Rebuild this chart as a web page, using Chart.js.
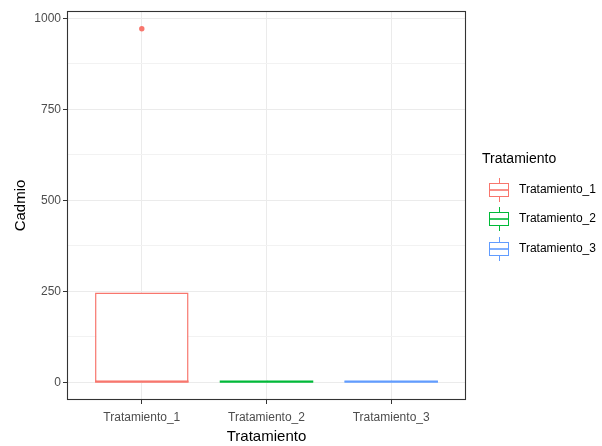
<!DOCTYPE html>
<html><head><meta charset="utf-8">
<script src="https://cdn.jsdelivr.net/npm/chart.js@4"></script>
<style>html,body{margin:0;padding:0;background:#fff}#wrap{width:602px;height:446px;position:relative}</style>
</head><body><div id="wrap"><canvas id="c" width="602" height="446"></canvas></div>
<script>
// ---- data ----
const categories = ['Tratamiento_1', 'Tratamiento_2', 'Tratamiento_3'];
const whiskerLow  = [0,   0.5, 0.5];
const q1          = [0.5, 1,   1];
const median      = [2,   2,   2];
const q3          = [247, 3,   3];
const whiskerHigh = [247, 4,   4];
const outliers    = [[972], [], []];
const yMajorTicks = [0, 250, 500, 750, 1000];
const yMinorTicks = [125, 375, 625, 875];
const xTitle = 'Tratamiento';
const yTitle = 'Cadmio';
const legendTitle = 'Tratamiento';

// ---- style ----
const colors = ['#F8766D', '#00BA38', '#619CFF'];
const FONT = "'Liberation Sans', Arial, sans-serif";
Chart.defaults.font.family = FONT;

const allVals = whiskerLow.concat(whiskerHigh, outliers.flat());
const dMin = Math.min(...allVals), dMax = Math.max(...allVals);
const padY = (dMax - dMin) * 0.05;
const yTickValues = yMajorTicks.concat(yMinorTicks).sort((a, b) => a - b);
const isMajor = v => yMajorTicks.includes(v);

const outlierPoints = [];
outliers.forEach((arr, i) => arr.forEach(v => outlierPoints.push({x: i + 1, y: v})));
const outlierColors = [];
outliers.forEach((arr, i) => arr.forEach(() => outlierColors.push(colors[i])));

const boxPlugin = {
  id: 'boxExtras',
  afterDatasetsDraw(chart) {
    const ctx = chart.ctx, y = chart.scales.y, meta = chart.getDatasetMeta(0);
    ctx.save();
    meta.data.forEach((bar, i) => {
      const cx = Math.round(bar.x) + 0.5, hw = bar.width / 2;
      ctx.strokeStyle = colors[i];
      ctx.lineWidth = 1;
      ctx.beginPath();
      ctx.moveTo(cx, y.getPixelForValue(q3[i]));
      ctx.lineTo(cx, y.getPixelForValue(whiskerHigh[i]));
      ctx.moveTo(cx, y.getPixelForValue(q1[i]));
      ctx.lineTo(cx, y.getPixelForValue(whiskerLow[i]));
      ctx.stroke();
      ctx.lineWidth = 2.2;
      ctx.beginPath();
      const my = y.getPixelForValue(median[i]);
      ctx.moveTo(bar.x - hw, my);
      ctx.lineTo(bar.x + hw, my);
      ctx.stroke();
    });
    ctx.restore();
  },
  afterDraw(chart) {
    const ctx = chart.ctx, a = chart.chartArea;
    ctx.save();
    // panel border
    ctx.strokeStyle = '#333333';
    ctx.lineWidth = 1.1;
    ctx.strokeRect(a.left + 0.5, a.top + 0.5, a.right - a.left - 1, a.bottom - a.top - 1);
    // legend
    const lx = a.right + 16;
    ctx.textAlign = 'left';
    ctx.textBaseline = 'middle';
    ctx.fillStyle = '#000000';
    ctx.font = '14px ' + FONT;
    ctx.fillText(legendTitle, lx, 159);
    categories.forEach((c, i) => {
      const cy = Math.round(190 + i * 29.3);
      const bx = lx + 7;
      ctx.fillStyle = '#FFFFFF';
      ctx.fillRect(bx, cy - 7, 20, 14);
      ctx.strokeStyle = colors[i];
      ctx.lineWidth = 1;
      ctx.strokeRect(bx + 0.5, cy - 6.5, 19, 13);
      ctx.beginPath();
      ctx.moveTo(bx + 10.5, cy - 12); ctx.lineTo(bx + 10.5, cy - 7);
      ctx.moveTo(bx + 10.5, cy + 7); ctx.lineTo(bx + 10.5, cy + 12);
      ctx.stroke();
      ctx.lineWidth = 1.6;
      ctx.beginPath();
      ctx.moveTo(bx, cy); ctx.lineTo(bx + 20, cy);
      ctx.stroke();
      ctx.fillStyle = '#000000';
      ctx.font = '12px ' + FONT;
      ctx.fillText(c, bx + 30, cy);
    });
    ctx.restore();
  }
};

new Chart(document.getElementById('c'), {
  type: 'bar',
  data: {
    datasets: [
      {
        label: 'box',
        data: categories.map((c, i) => ({x: i + 1, y: [q1[i], q3[i]]})),
        backgroundColor: '#FFFFFF',
        borderColor: colors,
        borderWidth: 1.5,
        borderSkipped: false,
        barPercentage: 0.75,
        categoryPercentage: 1,
        grouped: false
      },
      {
        type: 'scatter',
        label: 'outliers',
        data: outlierPoints,
        pointBackgroundColor: outlierColors,
        pointBorderWidth: 0,
        pointRadius: 2.7
      }
    ]
  },
  options: {
    responsive: false,
    animation: false,
    events: [],
    layout: {padding: {left: 0, top: 11, right: 136, bottom: 0}},
    plugins: {legend: {display: false}, tooltip: {enabled: false}},
    scales: {
      x: {
        type: 'linear',
        offset: false,
        min: 0.4,
        max: categories.length + 0.6,
        afterBuildTicks: s => { s.ticks = categories.map((c, i) => ({value: i + 1})); },
        afterFit: s => { s.height = 46; },
        ticks: {
          callback: v => categories[v - 1],
          color: '#4D4D4D',
          font: {size: 12},
          padding: 6,
          autoSkip: false,
          maxRotation: 0
        },
        grid: {offset: false, color: '#EBEBEB', lineWidth: 1, tickColor: '#333333', tickLength: 4, tickWidth: 1},
        border: {display: false},
        title: {display: true, text: xTitle, color: '#000000', font: {size: 15}, padding: {top: 0, bottom: 0}}
      },
      y: {
        type: 'linear',
        min: dMin - padY,
        max: dMax + padY,
        afterBuildTicks: s => { s.ticks = yTickValues.map(v => ({value: v})); },
        afterFit: s => { s.width = 67; },
        ticks: {
          callback: v => isMajor(v) ? String(v) : '',
          color: '#4D4D4D',
          font: {size: 12},
          padding: 2,
          autoSkip: false
        },
        grid: {
          color: c => isMajor(c.tick.value) ? '#EBEBEB' : '#F2F2F2',
          lineWidth: 1,
          tickColor: c => isMajor(c.tick.value) ? '#333333' : 'rgba(0,0,0,0)',
          tickLength: 4,
          tickWidth: 1
        },
        border: {display: false},
        title: {display: true, text: yTitle, color: '#000000', font: {size: 15}, padding: {top: 12, bottom: 0}}
      }
    }
  },
  plugins: [boxPlugin]
});
</script>
</body></html>
